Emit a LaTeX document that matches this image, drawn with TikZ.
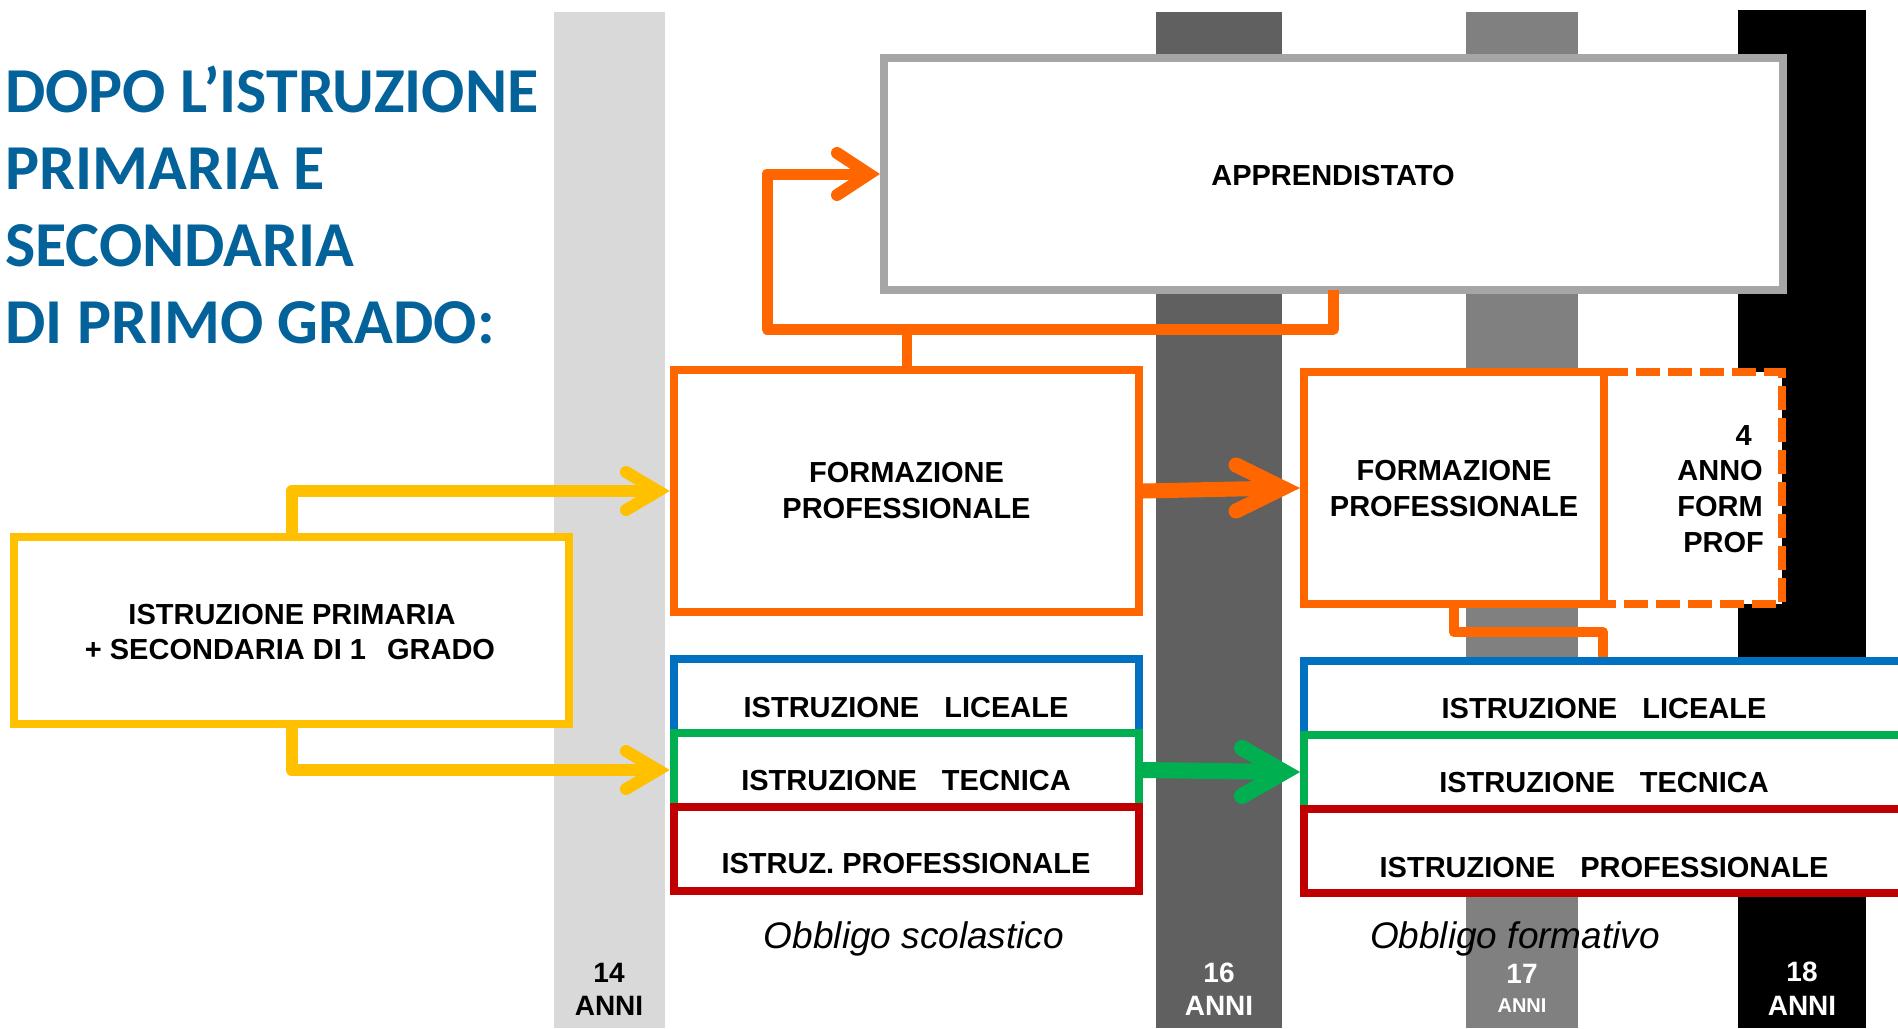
\documentclass[tikz,border=0pt]{standalone}
\usepackage{fontspec}
\setmainfont{Liberation Sans}
\newfontfamily\titlefont{Carlito}
\usetikzlibrary{calc}
\definecolor{ttl}{HTML}{03629A}
\definecolor{orng}{HTML}{FF6600}
\definecolor{yel}{HTML}{FFC000}
\definecolor{blu}{HTML}{0070C0}
\definecolor{grn}{HTML}{00B050}
\definecolor{redd}{HTML}{C00000}
\definecolor{apgray}{HTML}{A6A6A6}
\definecolor{barA}{HTML}{D9D9D9}
\definecolor{barB}{HTML}{606060}
\definecolor{barC}{HTML}{808080}
\newcommand\chev[6]{% color, line width, tip, miter extension, length, half height
  \draw[#1, line width=#2, line cap=round, line join=miter, miter limit=20]
    ($(#3)+(-#4-#5,-#6)$) -- ($(#3)+(-#4,0)$) -- ($(#3)+(-#4-#5,#6)$);}
\begin{document}
\begin{tikzpicture}[x=1pt,y=-1pt,
  frame/.style={draw, line width=8pt, fill=white, inner sep=0pt, outer sep=0pt},
  lbl/.style={font=\fontsize{29}{34}\selectfont\bfseries, inner sep=0pt, anchor=base},
  agelbl/.style={font=\fontsize{28}{32}\selectfont\bfseries, inner sep=0pt, anchor=base},
  oblig/.style={font=\fontsize{37}{42}\selectfont\itshape, inner sep=0pt, anchor=base},
  ttlline/.style={font=\titlefont\fontsize{64}{77}\selectfont\bfseries, text=ttl, inner sep=0pt, anchor=base west},
  conn/.style={line width=#1, line cap=butt, line join=round}]
\useasboundingbox (0,0) rectangle (1898,1028);
\fill[white] (0,0) rectangle (1898,1028);
% age bars
\fill[barA] (554,12) rectangle (665,1028);
\fill[barB] (1156,12) rectangle (1282,1028);
\fill[barC] (1466,12) rectangle (1578,1028);
\fill[black] (1738,10) rectangle (1866,1028);
% title
\node[ttlline] (t1) at (5,112) {DOPO L’ISTRUZIONE};
\node[ttlline] (t2) at (5,189) {PRIMARIA E};
\node[ttlline] (t3) at (5,266) {SECONDARIA};
\node[ttlline] (t4) at (5,343) {DI PRIMO GRADO:};
% boxes
\node[frame, draw=apgray, minimum width=899pt, minimum height=232pt] (appr) at (1333.5,174) {};
\node[frame, draw=orng, minimum width=465pt, minimum height=242pt] (fp1) at (906.5,491) {};
\node[fill=white, inner sep=0pt, outer sep=0pt, minimum width=178pt, minimum height=232pt] (ext) at (1693,488) {};
\draw[orng, line width=8pt, dash pattern=on 24pt off 8pt] (ext.north west) -- (ext.north east) -- (ext.south east) -- (ext.south west);
\node[frame, draw=orng, minimum width=300pt, minimum height=232pt] (fp2) at (1454,488) {};
\node[frame, draw=yel, minimum width=555pt, minimum height=187pt] (yb) at (291.5,630.5) {};
% connector from fp2 down to right stack
\coordinate (sc) at (1603,632);
\draw[orng, conn=10pt] (fp2.south) |- (sc) -- ++(0,29);
% stacks
\node[frame, draw=blu, minimum width=465pt, minimum height=74pt] (lblu) at (906.5,696) {};
\node[frame, draw=grn, minimum width=465pt, minimum height=74pt] (lgrn) at (906.5,770) {};
\node[frame, draw=redd, minimum width=465pt, minimum height=84pt] (lred) at (906.5,849) {};
\node[frame, draw=blu, minimum width=616pt, minimum height=74pt] (rblu) at (1612,698) {};
\node[frame, draw=grn, minimum width=616pt, minimum height=74pt] (rgrn) at (1612,772) {};
\node[frame, draw=redd, minimum width=616pt, minimum height=84pt] (rred) at (1612,851) {};
% orange loop to APPRENDISTATO
\coordinate (lc) at (767,329);
\draw[orng, conn=10pt] (fp1.north) -- (fp1.north |- lc);
\draw[orng, conn=11pt] (appr.south) |- (lc) |- ([xshift=-15pt]appr.west);
\chev{orng}{12pt}{[xshift=-4pt]appr.west}{11}{32}{21}
% yellow connectors
\draw[yel, conn=12pt] (yb.north) |- ([xshift=-16pt]fp1.west);
\chev{yel}{12pt}{[xshift=-4pt]fp1.west}{12}{32}{19}
\draw[yel, conn=12pt] (yb.south) |- ([xshift=-16pt]lgrn.west);
\chev{yel}{12pt}{[xshift=-4pt]lgrn.west}{12}{32}{19}
% orange fp1 -> fp2
\draw[orng, conn=15pt] ([xshift=4pt]fp1.east) -- ([xshift=-21pt]fp2.west);
\chev{orng}{15pt}{[xshift=-4pt]fp2.west}{17}{47}{23}
% green arrow
\draw[grn, conn=16pt] ([xshift=4pt]lgrn.east) -- ([xshift=-20pt]rgrn.west);
\chev{grn}{16pt}{[xshift=-4pt]rgrn.west}{16}{42}{24}
% texts
\node[lbl] (tappr) at (1333,185) {APPRENDISTATO};
\node[lbl] (tfa) at (906.5,482) {FORMAZIONE};
\node[lbl] (tfb) at (906.5,518) {PROFESSIONALE};
\node[lbl] (tga) at (1454,480) {FORMAZIONE};
\node[lbl] (tgb) at (1454,516) {PROFESSIONALE};
\node[lbl, anchor=base east] (te1) at (1752,445) {4};
\node[lbl, anchor=base east] (te2) at (1763,480) {ANNO};
\node[lbl, anchor=base east] (te3) at (1763,516) {FORM};
\node[lbl, anchor=base east] (te4) at (1764,552) {PROF};
\node[lbl] (tya) at (292,624) {ISTRUZIONE PRIMARIA};
\node[lbl] (tyb) at (290,659) {+ SECONDARIA DI 1\hspace{21pt}GRADO};
\node[lbl] (tl1) at (906,717) {ISTRUZIONE\hspace{25pt}LICEALE};
\node[lbl] (tl2) at (906,790) {ISTRUZIONE\hspace{25pt}TECNICA};
\node[lbl] (tl3) at (906,873) {ISTRUZ. PROFESSIONALE};
\node[lbl] (tr1) at (1604,718) {ISTRUZIONE\hspace{25pt}LICEALE};
\node[lbl] (tr2) at (1604,792) {ISTRUZIONE\hspace{25pt}TECNICA};
\node[lbl] (tr3) at (1604,877) {ISTRUZIONE\hspace{25pt}PROFESSIONALE};
\node[oblig] (os) at (914,948) {Obbligo scolastico};
\node[oblig] (of) at (1515,948) {Obbligo formativo};
\node[agelbl] (a14) at (609,982) {14};
\node[agelbl] (a14b) at (609,1015) {ANNI};
\node[agelbl, text=white] (a16) at (1219,982) {16};
\node[agelbl, text=white] (a16b) at (1219,1015) {ANNI};
\node[agelbl, text=white] (a17) at (1522,983) {17};
\node[agelbl, text=white, font=\fontsize{20}{24}\selectfont\bfseries] (a17b) at (1522,1012) {ANNI};
\node[agelbl, text=white] (a18) at (1802,981) {18};
\node[agelbl, text=white] (a18b) at (1802,1015) {ANNI};
\end{tikzpicture}
\end{document}
